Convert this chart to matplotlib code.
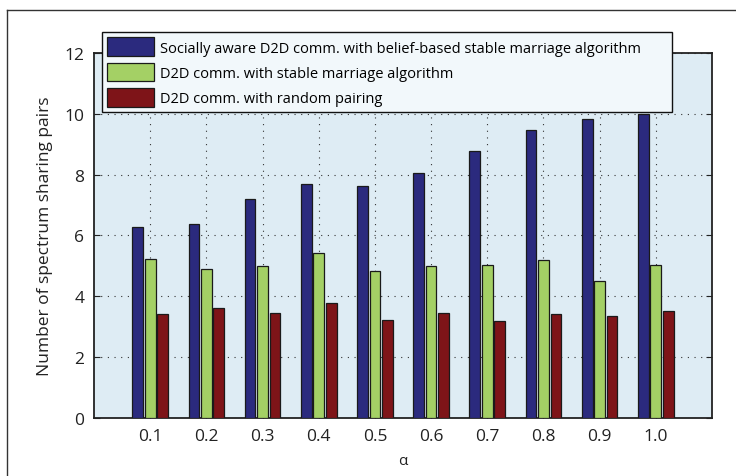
import matplotlib.pyplot as plt
from matplotlib.lines import Line2D
import numpy as np

# Values
alphas = ["0.1", "0.2", "0.3", "0.4", "0.5", "0.6", "0.7", "0.8", "0.9", "1.0"]
social_belief = [6.27, 6.39, 7.20, 7.70, 7.64, 8.06, 8.78, 9.47, 9.82, 10.0]
stable_marriage = [5.24, 4.91, 5.01, 5.42, 4.84, 5.01, 5.04, 5.21, 4.52, 5.03]
random_pairing = [3.42, 3.62, 3.45, 3.77, 3.21, 3.45, 3.19, 3.43, 3.35, 3.52]

labels = [
    "Socially aware D2D comm. with belief-based stable marriage algorithm",
    "D2D comm. with stable marriage algorithm",
    "D2D comm. with random pairing",
]
colors = ["#2b2a7e", "#a4d065", "#7e1418"]

plt.rcParams["font.family"] = ["Open Sans", "DejaVu Sans"]

fig = plt.figure(figsize=(7.36, 4.77), dpi=100)
ax = fig.add_axes([0.1277, 0.1216, 0.8397, 0.7652])
ax.set_facecolor("#deecf4")

x = np.arange(1, len(alphas) + 1)
width = 0.19
offset = 0.222
for i, (vals, lab, col) in enumerate(zip([social_belief, stable_marriage, random_pairing], labels, colors)):
    ax.bar(x + (i - 1) * offset, vals, width, color=col, edgecolor="#1a1a1a",
           linewidth=0.9, label=lab, zorder=3)

ax.set_xlim(0, 11)
ax.set_ylim(0, 12)
ax.set_xticks(x)
ax.set_xticklabels(alphas)
ax.set_yticks(range(0, 13, 2))
ax.grid(True, linestyle=(0, (1, 5)), color="#333333", linewidth=0.8, zorder=1)
ax.tick_params(direction="in", top=True, right=True, labelsize=12.5, length=4,
               colors="#222222", pad=7)
for s in ax.spines.values():
    s.set_linewidth(1.3)
    s.set_color("#222222")

ax.set_xlabel("\u03b1", fontsize=11, labelpad=7, color="#222222")
ax.set_ylabel("Number of spectrum sharing pairs", fontsize=12.5, color="#222222", labelpad=8)

leg = ax.legend(loc="upper left", bbox_to_anchor=(0.0125, 1.058, 0.9225, 0.0),
                mode="expand", fontsize=10.5, handlelength=3.2, handleheight=1.6,
                handletextpad=0.4, labelspacing=0.45, borderpad=0.38,
                fancybox=False, framealpha=1, borderaxespad=0)
leg.get_frame().set_facecolor("#f2f8fb")
leg.get_frame().set_edgecolor("#111111")
leg.get_frame().set_linewidth(1.0)
leg.set_zorder(5)

# outer frame lines (top and left)
fig.add_artist(Line2D([7 / 736, 1], [1 - 11 / 477, 1 - 11 / 477], color="#333333", linewidth=1.0))
fig.add_artist(Line2D([7 / 736, 7 / 736], [0, 1 - 11 / 477], color="#333333", linewidth=1.0))

fig.savefig("out.png", dpi=100)
